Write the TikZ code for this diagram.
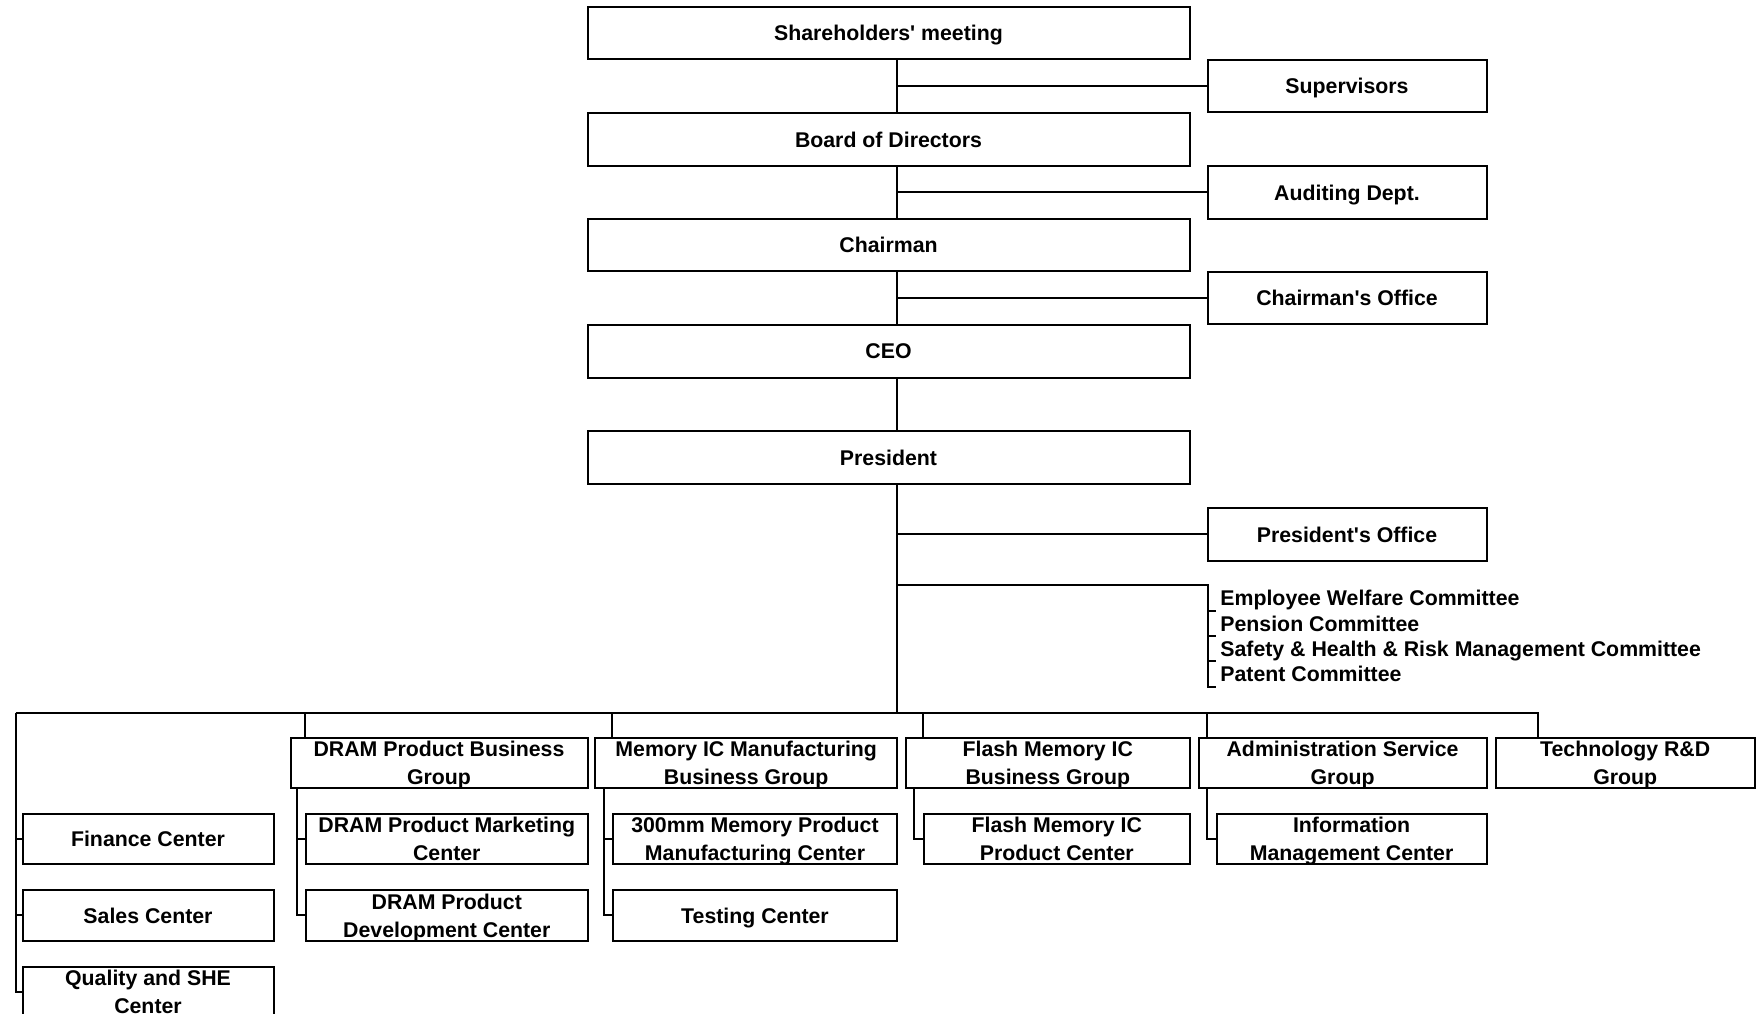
\documentclass[tikz,border=0pt]{standalone}
\usepackage{fontspec}
\setmainfont{Liberation Sans}

\tikzset{
  unit/.style={draw=black,line width=1pt,align=center,inner sep=0pt,text depth=0pt,
    font=\bfseries\fontsize{10.65}{14}\selectfont,minimum width=#1},
  top/.style={unit=#1,minimum height=26.4pt},
  grp/.style={unit=#1,minimum height=25.2pt},
  cmt/.style={anchor=base west,inner sep=0pt,font=\bfseries\fontsize{10.65}{12}\selectfont},
  link/.style={line width=1pt},
}

\begin{document}
\begin{tikzpicture}[x=0.5pt,y=-0.5pt]
    \useasboundingbox (0,0) rectangle (1758,1013);
    % main line
    \node[top=301pt] (share) at (888.5,33) {Shareholders\textquotesingle{} meeting};
    \node[top=301pt] (board) at (888.5,139.3) {Board of Directors};
    \node[top=301pt] (chair) at (888.5,245) {Chairman};
    \node[top=301pt] (ceo) at (888.5,351.5) {CEO};
    \node[top=301pt] (pres) at (888.5,457.5) {President};
    % staff units
    \node[top=139.5pt] (sup) at (1347,86) {Supervisors};
    \node[top=139.5pt] (audit) at (1347,192.3) {Auditing Dept.};
    \node[top=139.5pt] (choff) at (1347,298) {Chairman\textquotesingle s Office};
    \node[top=139.5pt] (presoff) at (1347,534.3) {President\textquotesingle s Office};
    % committees
    \node[cmt] (cmt1) at (1220,605) {Employee Welfare Committee};
    \node[cmt] (cmt2) at (1220,631) {Pension Committee};
    \node[cmt] (cmt3) at (1220,656.5) {Safety \& Health \& Risk Management Committee};
    \node[cmt] (cmt4) at (1220,681.5) {Patent Committee};
    % groups
    \node[grp=148.5pt] (dram) at (439,763) {DRAM Product Business\\Group};
    \node[grp=150.8pt] (mem) at (746.2,763) {Memory IC Manufacturing\\Business Group};
    \node[grp=141.8pt] (flash) at (1047.8,763) {Flash Memory IC\\Business Group};
    \node[grp=144pt] (admin) at (1342.6,763) {Administration Service\\Group};
    \node[grp=129.5pt] (tech) at (1625.2,763) {Technology R\&D\\Group};
    % centers
    \node[grp=125.5pt] (fin) at (148,839) {Finance Center};
    \node[grp=125.5pt] (sales) at (148,915.4) {Sales Center};
    \node[grp=125.5pt] (qual) at (148,992) {Quality and SHE\\Center};
    \node[grp=140.75pt] (dmkt) at (446.8,839) {DRAM Product Marketing\\Center};
    \node[grp=140.75pt] (ddev) at (446.8,915.4) {DRAM Product\\Development Center};
    \node[grp=142pt] (m300) at (755,839) {300mm Memory Product\\Manufacturing Center};
    \node[grp=142pt] (test) at (755,915.4) {Testing Center};
    \node[grp=132.8pt] (fprod) at (1056.8,839) {Flash Memory IC\\Product Center};
    \node[grp=135pt] (info) at (1351.6,839) {Information\\Management Center};

    \coordinate (spine) at (897,0);
    \coordinate (bus) at (0,713);
    \coordinate (busL) at (15.7,713);
    \coordinate (busR) at (1539.4,713);
    \coordinate (cmtx) at (1208,585);
    % vertical line
    \draw[link] (share.south -| spine) -- (board.north -| spine);
    \draw[link] (board.south -| spine) -- (chair.north -| spine);
    \draw[link] (chair.south -| spine) -- (ceo.north -| spine);
    \draw[link] (ceo.south -| spine) -- (pres.north -| spine);
    \draw[link] (pres.south -| spine) -- (bus -| spine);
    \foreach \s in {sup,audit,choff,presoff}
        \draw[link] (\s.west) -- (\s.west -| spine);
    % committee bracket
    \draw[link] (cmtx -| spine) -- (cmtx) -- (cmtx |- 0,687) -- ++(8,0);
    \foreach \y in {610.5,636,661}
        \draw[link] (cmtx |- 0,\y) -- ++(8,0);
    % group bus
    \draw[link] (busL) -- (busR);
    \foreach \g/\s in {dram/7.8pt,mem/8.95pt,flash/8.95pt,admin/4.45pt,tech/21.85pt} {
        \coordinate (\g drop) at ([xshift=\s]\g.north west);
        \draw[link] (\g drop) -- (\g drop |- bus);
    }
    % center lines
    \draw[link] (busL) |- (qual.west);
    \foreach \c in {fin,sales}
        \draw[link] (\c.west) -- (\c.west -| busL);
    \foreach \g/\s/\last/\others in {dram/3.8pt/ddev/dmkt,mem/5pt/test/m300,flash/4.5pt/fprod/fprod,admin/4.45pt/info/info} {
        \coordinate (\g foot) at ([xshift=\s]\g.south west);
        \draw[link] (\g foot) |- (\last.west);
        \draw[link] (\others.west) -- (\others.west -| \g foot);
    }
\end{tikzpicture}
\end{document}
